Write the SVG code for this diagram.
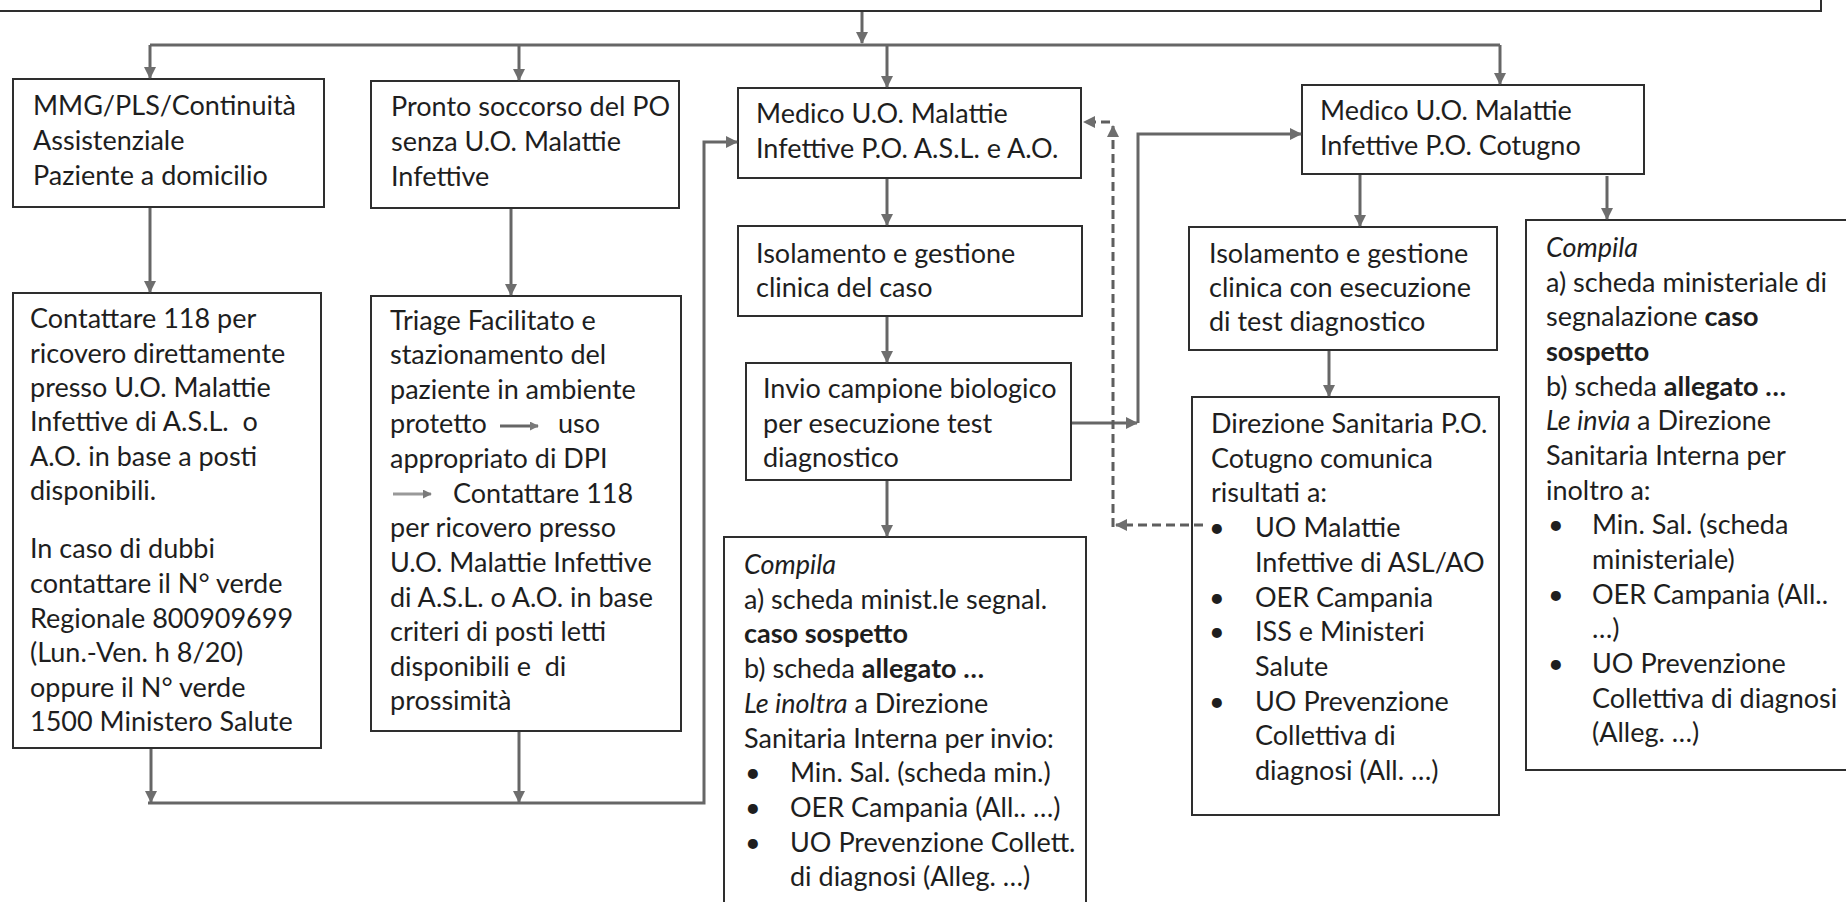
<svg xmlns="http://www.w3.org/2000/svg" width="1846" height="902" viewBox="0 0 1846 902">
<style>
.box{fill:#fff;stroke:#2e2e2e;stroke-width:2}
.t{font-family:Lato,"Liberation Sans",sans-serif;font-size:27px;fill:#1e1e1e}
.b{font-weight:bold}
.i{font-style:italic}
.c{stroke:#666;stroke-width:3;fill:none}
.d{stroke:#5e5e5e;stroke-width:3;fill:none;stroke-dasharray:9 5}
</style>
<defs>
<marker id="ah" viewBox="0 0 12 12" refX="11" refY="6" markerWidth="12" markerHeight="12" markerUnits="userSpaceOnUse" orient="auto">
<path d="M0,0 L12,6 L0,12 Z" fill="#6e6e6e"/>
</marker>
<marker id="sm" viewBox="0 0 10 10" refX="9" refY="5" markerWidth="9" markerHeight="9" markerUnits="userSpaceOnUse" orient="auto">
<path d="M0,0 L10,5 L0,10 Z" fill="#7a7a7a"/>
</marker>
</defs>
<rect width="1846" height="902" fill="#fff"/>

<g id="top">
<rect class="box" x="-5" y="-5" width="1826" height="16"/>
</g>

<g id="n1">
<rect class="box" x="13" y="79" width="311" height="128"/>
<text class="t" x="33" y="115">MMG/PLS/Continuità</text>
<text class="t" x="33" y="150">Assistenziale</text>
<text class="t" x="33" y="185">Paziente a domicilio</text>
</g>

<g id="n2">
<rect class="box" x="371" y="81" width="308" height="127"/>
<text class="t" x="391" y="116">Pronto soccorso del PO</text>
<text class="t" x="391" y="151">senza U.O. Malattie</text>
<text class="t" x="391" y="186">Infettive</text>
</g>

<g id="n1b">
<rect class="box" x="13" y="293" width="308" height="455"/>
<text class="t" x="30" y="328">Contattare 118 per</text>
<text class="t" x="30" y="363">ricovero direttamente</text>
<text class="t" x="30" y="397">presso U.O. Malattie</text>
<text class="t" x="30" y="431" xml:space="preserve">Infettive di A.S.L.  o</text>
<text class="t" x="30" y="466">A.O. in base a posti</text>
<text class="t" x="30" y="500">disponibili.</text>
<text class="t" x="30" y="558">In caso di dubbi</text>
<text class="t" x="30" y="593">contattare il N° verde</text>
<text class="t" x="30" y="628">Regionale 800909699</text>
<text class="t" x="30" y="662">(Lun.-Ven. h 8/20)</text>
<text class="t" x="30" y="697">oppure il N° verde</text>
<text class="t" x="30" y="731">1500 Ministero Salute</text>
</g>

<g id="n2b">
<rect class="box" x="371" y="296" width="310" height="435"/>
<text class="t" x="390" y="330">Triage Facilitato e</text>
<text class="t" x="390" y="364">stazionamento del</text>
<text class="t" x="390" y="399">paziente in ambiente</text>
<text class="t" x="390" y="433">protetto</text>
<line class="c" x1="500" y1="426" x2="538" y2="426" stroke-width="2" marker-end="url(#sm)"/>
<text class="t" x="558" y="433">uso</text>
<text class="t" x="390" y="468">appropriato di DPI</text>
<line class="c" x1="393" y1="494" x2="431" y2="494" stroke-width="2" marker-end="url(#sm)" style="stroke:#999"/>
<text class="t" x="453" y="503">Contattare 118</text>
<text class="t" x="390" y="537">per ricovero presso</text>
<text class="t" x="390" y="572">U.O. Malattie Infettive</text>
<text class="t" x="390" y="607">di A.S.L. o A.O. in base</text>
<text class="t" x="390" y="641">criteri di posti letti</text>
<text class="t" x="390" y="676" xml:space="preserve">disponibili e  di</text>
<text class="t" x="390" y="710">prossimità</text>
</g>

<g id="n3">
<rect class="box" x="738" y="88" width="343" height="90"/>
<text class="t" x="756" y="123">Medico U.O. Malattie</text>
<text class="t" x="756" y="158">Infettive P.O. A.S.L. e A.O.</text>
</g>

<g id="n3a">
<rect class="box" x="738" y="226" width="344" height="90"/>
<text class="t" x="756" y="263">Isolamento e gestione</text>
<text class="t" x="756" y="297">clinica del caso</text>
</g>

<g id="n3b">
<rect class="box" x="746" y="363" width="325" height="117"/>
<text class="t" x="763" y="398">Invio campione biologico</text>
<text class="t" x="763" y="433">per esecuzione test</text>
<text class="t" x="763" y="467">diagnostico</text>
</g>

<g id="n3c">
<rect class="box" x="724" y="537" width="362" height="380"/>
<text class="t i" x="744" y="574">Compila</text>
<text class="t" x="744" y="609">a) scheda minist.le segnal.</text>
<text class="t b" x="744" y="643">caso sospetto</text>
<text class="t" x="744" y="678">b) scheda <tspan class="b">allegato …</tspan></text>
<text class="t" x="744" y="713"><tspan class="i">Le inoltra</tspan> a Direzione</text>
<text class="t" x="744" y="748">Sanitaria Interna per invio:</text>
<text class="t" x="745" y="782">•</text><text class="t" x="790" y="782">Min. Sal. (scheda min.)</text>
<text class="t" x="745" y="817">•</text><text class="t" x="790" y="817">OER Campania (All.. …)</text>
<text class="t" x="745" y="852">•</text><text class="t" x="790" y="852">UO Prevenzione Collett.</text>
<text class="t" x="790" y="886">di diagnosi (Alleg. …)</text>
</g>

<g id="n4">
<rect class="box" x="1302" y="85" width="342" height="89"/>
<text class="t" x="1320" y="120">Medico U.O. Malattie</text>
<text class="t" x="1320" y="155">Infettive P.O. Cotugno</text>
</g>

<g id="n4a">
<rect class="box" x="1189" y="227" width="308" height="123"/>
<text class="t" x="1209" y="263">Isolamento e gestione</text>
<text class="t" x="1209" y="297">clinica con esecuzione</text>
<text class="t" x="1209" y="331">di test diagnostico</text>
</g>

<g id="n4b">
<rect class="box" x="1192" y="397" width="307" height="418"/>
<text class="t" x="1211" y="433">Direzione Sanitaria P.O.</text>
<text class="t" x="1211" y="468">Cotugno comunica</text>
<text class="t" x="1211" y="502">risultati a:</text>
<text class="t" x="1209" y="537">•</text><text class="t" x="1255" y="537">UO Malattie</text>
<text class="t" x="1255" y="572">Infettive di ASL/AO</text>
<text class="t" x="1209" y="607">•</text><text class="t" x="1255" y="607">OER Campania</text>
<text class="t" x="1209" y="641">•</text><text class="t" x="1255" y="641">ISS e Ministeri</text>
<text class="t" x="1255" y="676">Salute</text>
<text class="t" x="1209" y="711">•</text><text class="t" x="1255" y="711">UO Prevenzione</text>
<text class="t" x="1255" y="745">Collettiva di</text>
<text class="t" x="1255" y="780">diagnosi (All. …)</text>
</g>

<g id="n4c">
<rect class="box" x="1526" y="220" width="340" height="550"/>
<text class="t i" x="1546" y="257">Compila</text>
<text class="t" x="1546" y="292">a) scheda ministeriale di</text>
<text class="t" x="1546" y="326">segnalazione <tspan class="b">caso</tspan></text>
<text class="t b" x="1546" y="361">sospetto</text>
<text class="t" x="1546" y="396">b) scheda <tspan class="b">allegato …</tspan></text>
<text class="t" x="1546" y="430"><tspan class="i">Le invia</tspan> a Direzione</text>
<text class="t" x="1546" y="465">Sanitaria Interna per</text>
<text class="t" x="1546" y="500">inoltro a:</text>
<text class="t" x="1548" y="534">•</text><text class="t" x="1592" y="534">Min. Sal. (scheda</text>
<text class="t" x="1592" y="569">ministeriale)</text>
<text class="t" x="1548" y="604">•</text><text class="t" x="1592" y="604">OER Campania (All..</text>
<text class="t" x="1592" y="638">…)</text>
<text class="t" x="1548" y="673">•</text><text class="t" x="1592" y="673">UO Prevenzione</text>
<text class="t" x="1592" y="708">Collettiva di diagnosi</text>
<text class="t" x="1592" y="742">(Alleg. …)</text>
</g>

<g id="connectors">
<line class="c" x1="862" y1="12" x2="862" y2="43" marker-end="url(#ah)"/>
<line class="c" x1="150" y1="45" x2="1500" y2="45"/>
<line class="c" x1="150" y1="45" x2="150" y2="78" marker-end="url(#ah)"/>
<line class="c" x1="519" y1="45" x2="519" y2="80" marker-end="url(#ah)"/>
<line class="c" x1="887" y1="45" x2="887" y2="87" marker-end="url(#ah)"/>
<line class="c" x1="1500" y1="45" x2="1500" y2="84" marker-end="url(#ah)"/>
<line class="c" x1="150" y1="208" x2="150" y2="292" marker-end="url(#ah)"/>
<line class="c" x1="511" y1="209" x2="511" y2="295" marker-end="url(#ah)"/>
<line class="c" x1="151" y1="749" x2="151" y2="802" marker-end="url(#ah)"/>
<line class="c" x1="519" y1="732" x2="519" y2="802" marker-end="url(#ah)"/>
<path class="c" d="M148,803 H704 V142 H737" marker-end="url(#ah)"/>
<line class="c" x1="887" y1="179" x2="887" y2="225" marker-end="url(#ah)"/>
<line class="c" x1="887" y1="317" x2="887" y2="362" marker-end="url(#ah)"/>
<line class="c" x1="887" y1="481" x2="887" y2="536" marker-end="url(#ah)"/>
<line class="c" x1="1072" y1="423" x2="1137" y2="423" marker-end="url(#ah)"/>
<path class="c" d="M1138,423 V134 H1301" marker-end="url(#ah)"/>
<line class="c" x1="1360" y1="175" x2="1360" y2="226" marker-end="url(#ah)"/>
<line class="c" x1="1607" y1="176" x2="1607" y2="219" marker-end="url(#ah)"/>
<line class="c" x1="1329" y1="351" x2="1329" y2="396" marker-end="url(#ah)"/>
<line class="d" x1="1203" y1="525" x2="1116" y2="525" marker-end="url(#ah)"/>
<line class="d" x1="1113" y1="527" x2="1113" y2="126" marker-end="url(#ah)"/>
<line class="d" x1="1110" y1="122" x2="1084" y2="122" marker-end="url(#ah)"/>
</g>
</svg>
